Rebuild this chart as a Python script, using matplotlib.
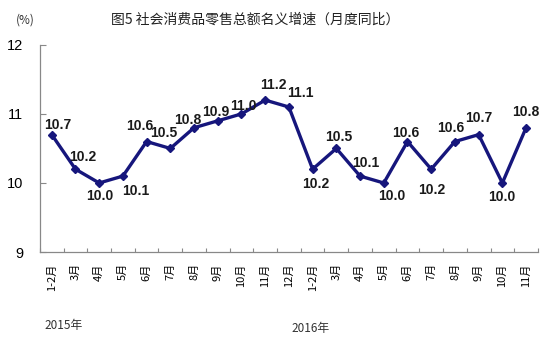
import numpy as np
import matplotlib
matplotlib.use('Agg')
import matplotlib.pyplot as plt

plt.rcParams['font.family'] = ['Noto Sans CJK SC', 'DejaVu Sans']

# 数据：社会消费品零售总额名义增速（%）
months = ['1-2月', '3月', '4月', '5月', '6月', '7月', '8月', '9月', '10月', '11月', '12月',
          '1-2月', '3月', '4月', '5月', '6月', '7月', '8月', '9月', '10月', '11月']
values = [10.7, 10.2, 10.0, 10.1, 10.6, 10.5, 10.8, 10.9, 11.0, 11.2, 11.1,
          10.2, 10.5, 10.1, 10.0, 10.6, 10.2, 10.6, 10.7, 10.0, 10.8]
years = ['2015年', '2016年']

# 数据标签偏移（像素）
offsets = [(6, 10), (7, 12), (1, -13), (13, -15), (-7, 16), (-7, 15), (-6, 8), (-2, 9),
           (2, 8), (8, 15), (11, 14), (3, -15), (2, 11), (6, 13), (8, -13), (-2, 9),
           (0, -21), (-4, 14), (0, 17), (-1, -14), (0, 16)]

fig = plt.figure(figsize=(5.54, 3.56), dpi=100)
ax = fig.add_axes([0.072, 0.292, 0.899, 0.582])

x = np.arange(len(values))
ax.plot(x, values, color='#16167c', lw=2.4, marker='D', ms=4.5, zorder=3)

for xi, v, (dx, dy) in zip(x, values, offsets):
    ax.annotate(f'{v:.1f}', (xi, v), xytext=(dx, dy), textcoords='offset pixels',
                ha='center', va='center', fontsize=10, fontweight='bold',
                family='Liberation Sans', color='#1a1a1a')

ax.set_xlim(-0.5, len(values) - 0.5)
ax.set_ylim(9, 12)
ax.set_yticks([9, 10, 11, 12])
ax.set_yticklabels(['9', '10', '11', '12'], family='Liberation Sans', fontsize=10.5)

ax.set_xticks(np.arange(len(values) + 1) - 0.5)
ax.set_xticklabels([])
ax.set_xticks(x, minor=True)
ax.set_xticklabels(months, minor=True, rotation=90, fontsize=8, va='top', ha='center')
ax.tick_params(axis='x', which='major', direction='in', length=3, color='#888888')
ax.tick_params(axis='x', which='minor', length=0, pad=8)
ax.tick_params(axis='y', direction='in', length=4, color='#888888', pad=12)

for s in ['top', 'right']:
    ax.spines[s].set_visible(False)
for s in ['left', 'bottom']:
    ax.spines[s].set_color('#888888')
    ax.spines[s].set_linewidth(0.9)

fig.text(0.46, 0.945, '图5 社会消费品零售总额名义增速（月度同比）', ha='center', va='center',
         fontsize=10, color='#222222')
fig.text(0.045, 0.945, '(%)', ha='center', va='center', fontsize=8.5, color='#333333')
fig.text(0.115, 0.085, years[0], ha='center', va='center', fontsize=8.5, color='#333333')
fig.text(0.56, 0.078, years[1], ha='center', va='center', fontsize=8.5, color='#333333')

fig.savefig('out.png', dpi=100)
